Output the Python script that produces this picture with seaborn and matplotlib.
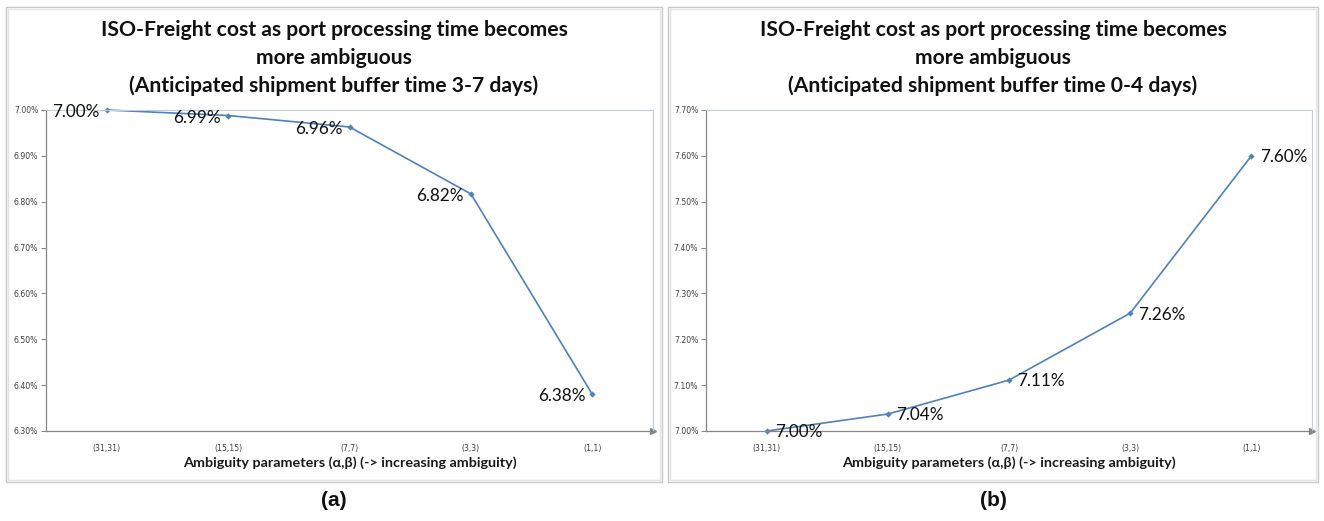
import matplotlib
matplotlib.use("Agg")
import matplotlib.pyplot as plt
from matplotlib.patches import Rectangle
import pandas as pd
import seaborn as sns

# Ambiguity settings (alpha, beta) and the resulting ISO-freight cost (%)
categories = ["(31,31)", "(15,15)", "(7,7)", "(3,3)", "(1,1)"]
cost_buffer_3_7 = [7.00, 6.988, 6.963, 6.817, 6.38]
cost_buffer_0_4 = [7.00, 7.037, 7.111, 7.257, 7.60]
labels_3_7 = ["7.00%", "6.99%", "6.96%", "6.82%", "6.38%"]
labels_0_4 = ["7.00%", "7.04%", "7.11%", "7.26%", "7.60%"]
yticks_3_7 = [6.30, 6.40, 6.50, 6.60, 6.70, 6.80, 6.90, 7.00]
yticks_0_4 = [7.00, 7.10, 7.20, 7.30, 7.40, 7.50, 7.60, 7.70]

title_lines = ["ISO-Freight cost as port processing time becomes", "more ambiguous"]
subtitles = ["(Anticipated shipment buffer time 3-7 days)",
             "(Anticipated shipment buffer time 0-4 days)"]
xlabel = "Ambiguity parameters (\u03b1,\u03b2) (-> increasing ambiguity)"
panel_tags = ["(a)", "(b)"]

sns.set_theme(style="white")
plt.rcParams["font.family"] = ["Lato", "DejaVu Sans"]

W, H = 1324, 521
fig = plt.figure(figsize=(W / 100, H / 100), dpi=100)
fig.patch.set_facecolor("white")

LINE = "#4f81bd"
AXIS = "#868686"
FRAME = "#b9cde5"


def px(x0, y0, x1, y1):
    return [x0 / W, 1 - y1 / H, (x1 - x0) / W, (y1 - y0) / H]


panels = [
    dict(rect=px(46, 110, 653, 431), box=(6, 7, 662, 482), values=cost_buffer_3_7,
         labels=labels_3_7, yticks=yticks_3_7, offset=(-5.0, -1.5), ha="right"),
    dict(rect=px(706, 110, 1312, 431), box=(668, 7, 1318, 482), values=cost_buffer_0_4,
         labels=labels_0_4, yticks=yticks_0_4, offset=(6.0, -1.0), ha="left"),
]

for i, p in enumerate(panels):
    bx0, by0, bx1, by1 = p["box"]
    # chart-area frame (double light grey line)
    for d, c in ((0, "#c8c8c8"), (2, "#e4e4e4")):
        fig.add_artist(Rectangle(((bx0 + d) / W, 1 - (by1 - d) / H),
                                 (bx1 - bx0 - 2 * d) / W, (by1 - by0 - 2 * d) / H,
                                 transform=fig.transFigure, fill=False,
                                 edgecolor=c, linewidth=1.0))

    ax = fig.add_axes(p["rect"])
    df = pd.DataFrame({"param": categories, "cost": p["values"]})
    sns.lineplot(data=df, x="param", y="cost", sort=False, ax=ax, color=LINE,
                 linewidth=1.2, marker="D", markersize=3.2, markeredgewidth=0,
                 clip_on=False)

    ax.set_xlim(-0.5, len(categories) - 0.5)
    ax.set_ylim(p["yticks"][0], p["yticks"][-1])
    ax.set_yticks(p["yticks"])
    ax.set_yticklabels([f"{v:.2f}%" for v in p["yticks"]])
    ax.set_xticks(range(len(categories)))
    ax.set_xticklabels(categories)
    ax.tick_params(axis="y", length=3.5, width=0.7, color=AXIS, pad=2,
                   labelcolor="#404040", left=True)
    ax.tick_params(axis="x", length=0, pad=9.0, labelcolor="#404040")
    for lab in ax.get_xticklabels() + ax.get_yticklabels():
        lab.set_family(["DejaVu Sans"])
        lab.set_fontsize(5.6)

    ax.spines["left"].set_color(AXIS)
    ax.spines["bottom"].set_color(AXIS)
    ax.spines["left"].set_linewidth(0.9)
    ax.spines["bottom"].set_linewidth(0.9)
    ax.spines["top"].set_color(FRAME)
    ax.spines["right"].set_color(FRAME)
    ax.spines["top"].set_linewidth(0.8)
    ax.spines["right"].set_linewidth(0.8)
    # arrow head at the end of the category axis
    ax.plot([1.0], [0.0], marker=">", color=AXIS, markersize=4, transform=ax.transAxes,
            clip_on=False)

    ax.set_xlabel(xlabel, fontsize=10.4, fontweight="bold", color="#1a1a1a")
    ax.xaxis.label.set_family(["Lato", "DejaVu Sans"])
    ax.xaxis.set_label_coords(0.5, -0.10)
    ax.xaxis.label.set_va("center")
    ax.set_ylabel("")

    for j, (val, txt) in enumerate(zip(p["values"], p["labels"])):
        ax.annotate(txt, (j, val), xytext=p["offset"], textcoords="offset points",
                    ha=p["ha"], va="center", fontsize=12.3, color="#111111")

    cx = (bx0 + bx1) / 2 / W
    for k, line in enumerate(title_lines + [subtitles[i]]):
        fig.text(cx, 1 - (30 + 28 * k) / H, line, ha="center", va="center",
                 fontsize=15.2, fontweight="bold", color="#111111")
    fig.text(cx, 1 - 500 / H, panel_tags[i], ha="center", va="center",
             fontsize=15, fontweight="bold", family=["Liberation Sans"], color="#111111")

fig.savefig("out.png", dpi=100, facecolor="white")
